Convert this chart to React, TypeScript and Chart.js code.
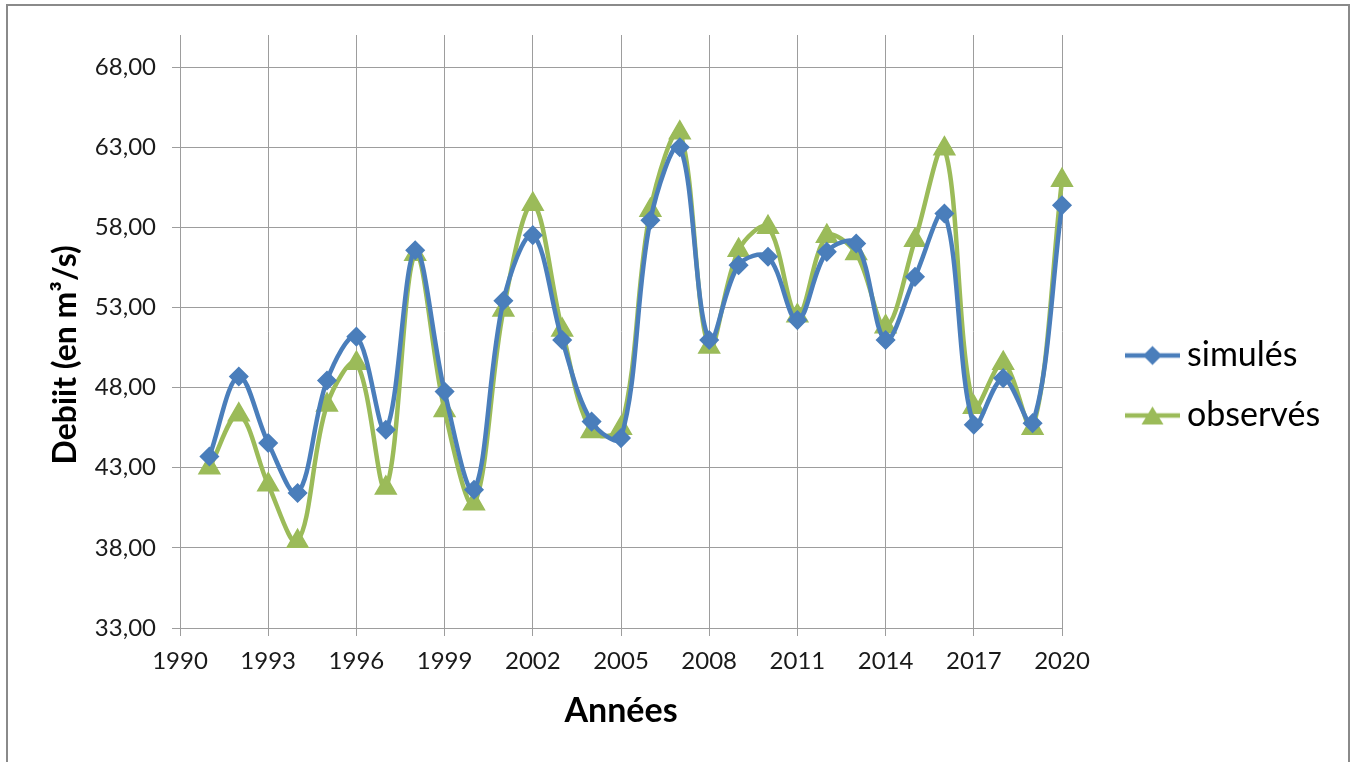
import React, { useEffect, useRef } from 'react';
import { Chart, registerables } from 'chart.js';

Chart.register(...registerables);

const years = [1991, 1992, 1993, 1994, 1995, 1996, 1997, 1998, 1999, 2000, 2001, 2002, 2003, 2004, 2005, 2006, 2007, 2008, 2009, 2010, 2011, 2012, 2013, 2014, 2015, 2016, 2017, 2018, 2019, 2020];
const simules = [43.7, 48.69, 44.54, 41.42, 48.44, 51.18, 45.37, 56.57, 47.75, 41.63, 53.42, 57.51, 50.97, 45.88, 44.85, 58.44, 63.0, 50.97, 55.64, 56.16, 52.21, 56.47, 56.99, 50.97, 54.91, 58.86, 45.68, 48.59, 45.78, 59.38];
const observes = [43.0, 46.3, 41.94, 38.41, 46.92, 49.52, 41.74, 56.32, 46.57, 40.76, 52.84, 59.44, 51.59, 45.26, 45.47, 59.07, 63.9, 50.53, 56.57, 58.0, 52.48, 57.45, 56.37, 51.8, 57.2, 62.91, 46.78, 49.52, 45.47, 60.93];
const seriesLabels = ['simulés', 'observés'];
const xTicks = [1990, 1993, 1996, 1999, 2002, 2005, 2008, 2011, 2014, 2017, 2020];
const yTicks = [33, 38, 43, 48, 53, 58, 63, 68];
const xTitle = 'Années';
const yTitle = 'Debiit (en m³/s)';

const BLUE = '#4A7EBB';
const GREEN = '#9BBB59';
const GRID = '#9d9d9d';
const FONT = 'Lato';
const LEGEND_FONT_SIZE = 34;
const LEGEND_PAD = 26;
const LEGEND_BOX = 82;
const CHART_RIGHT = 1062;
const LINE_START = 1125;
const LINE_LEN = 55;

function makeLegendImg(color: string, kind: 'diamond' | 'triangle') {
  // image is drawn centred at cursor.x + LEGEND_BOX / 2
  const centreX = CHART_RIGHT + LEGEND_PAD + LEGEND_BOX / 2;
  const relStart = LINE_START - centreX;
  const relEnd = relStart + LINE_LEN;
  const half = Math.ceil(Math.max(Math.abs(relStart), Math.abs(relEnd))) + 2;
  const c = document.createElement('canvas');
  c.width = half * 2;
  c.height = 30;
  const g = c.getContext('2d')!;
  const x0 = half + relStart;
  const x1 = half + relEnd;
  g.strokeStyle = color;
  g.lineWidth = 4.5;
  g.beginPath();
  g.moveTo(x0, 15);
  g.lineTo(x1, 15);
  g.stroke();
  g.fillStyle = color;
  g.beginPath();
  const cx = (x0 + x1) / 2;
  if (kind === 'diamond') {
    const r = 9.5;
    g.moveTo(cx - r, 15);
    g.lineTo(cx, 15 - r);
    g.lineTo(cx + r, 15);
    g.lineTo(cx, 15 + r);
  } else {
    g.moveTo(cx, 15 - 9);
    g.lineTo(cx + 11, 15 + 9);
    g.lineTo(cx - 11, 15 + 9);
  }
  g.closePath();
  g.fill();
  return c;
}

export default function App() {
  const ref = useRef<HTMLCanvasElement | null>(null);

  useEffect(() => {
    if (!ref.current) return;
    const legendImgs = [makeLegendImg(BLUE, 'diamond'), makeLegendImg(GREEN, 'triangle')];

    const mc = document.createElement('canvas').getContext('2d')!;
    mc.font = `${LEGEND_FONT_SIZE}px ${FONT}`;
    const textW = Math.max(...seriesLabels.map((t) => mc.measureText(t).width));
    const legendW = LEGEND_PAD + LEGEND_BOX + LEGEND_FONT_SIZE / 2 + textW + 10;
    const padRight = Math.max(0, 1355 - CHART_RIGHT - legendW);

    const chart = new Chart(ref.current, {
      type: 'line',
      data: {
        datasets: [
          {
            label: seriesLabels[0],
            data: years.map((y, i) => ({ x: y, y: simules[i] })),
            borderColor: BLUE,
            backgroundColor: BLUE,
            borderWidth: 4.5,
            tension: 0.35,
            pointStyle: 'rectRot',
            pointRadius: 9,
            pointBorderWidth: 1.5,
            pointBackgroundColor: BLUE,
            pointBorderColor: BLUE,
            clip: false,
          },
          {
            label: seriesLabels[1],
            data: years.map((y, i) => ({ x: y, y: observes[i] })),
            borderColor: GREEN,
            backgroundColor: GREEN,
            borderWidth: 4.5,
            tension: 0.35,
            pointStyle: 'triangle',
            pointRadius: 12,
            pointBorderWidth: 1.5,
            pointBackgroundColor: GREEN,
            pointBorderColor: GREEN,
            clip: false,
          },
        ],
      },
      options: {
        responsive: false,
        animation: false,
        events: [],
        layout: { padding: { left: 0, top: 35, right: padRight, bottom: 26 } },
        plugins: {
          tooltip: { enabled: false },
          legend: {
            position: 'right',
            align: 'center',
            labels: {
              usePointStyle: true,
              pointStyleWidth: LEGEND_BOX,
              padding: LEGEND_PAD,
              color: '#111',
              font: { family: FONT, size: LEGEND_FONT_SIZE },
              generateLabels: (ch: any) =>
                ch.data.datasets.map((ds: any, i: number) => ({
                  text: ds.label,
                  pointStyle: legendImgs[i],
                  fillStyle: ds.borderColor,
                  strokeStyle: ds.borderColor,
                  lineWidth: 0,
                  hidden: false,
                  datasetIndex: i,
                })),
            },
          },
        },
        scales: {
          x: {
            type: 'linear',
            min: 1990,
            max: 2020,
            afterBuildTicks: (s: any) => {
              s.ticks = xTicks.map((v) => ({ value: v }));
            },
            afterFit: (s: any) => {
              s.height = 108;
            },
            ticks: {
              autoSkip: false,
              maxRotation: 0,
              padding: 11,
              color: '#1a1a1a',
              font: { family: FONT, size: 24 },
              callback: (v: any) => String(v),
            },
            grid: { color: GRID, lineWidth: 1, tickLength: 8, drawTicks: true },
            border: { color: GRID, width: 1 },
            title: {
              display: true,
              text: xTitle,
              color: '#000',
              font: { family: FONT, size: 34, weight: 'bold' },
              padding: { top: 0, bottom: 5 },
            },
          },
          y: {
            type: 'linear',
            min: 33,
            max: 70,
            afterBuildTicks: (s: any) => {
              s.ticks = yTicks.map((v) => ({ value: v }));
            },
            afterFit: (s: any) => {
              s.width = 180;
            },
            ticks: {
              padding: 16,
              color: '#1a1a1a',
              font: { family: FONT, size: 24 },
              callback: (v: any) => Number(v).toFixed(2).replace('.', ','),
            },
            grid: { color: GRID, lineWidth: 1, tickLength: 8, drawTicks: true },
            border: { color: GRID, width: 1 },
            title: {
              display: true,
              text: yTitle + '      ',
              color: '#000',
              font: { family: FONT, size: 32, weight: 'bold' },
              padding: { top: 46, bottom: 0 },
            },
          },
        },
      },
    } as any);

    return () => chart.destroy();
  }, []);

  return (
    <div style={{ position: 'fixed', left: 0, top: 0, width: 1355, height: 762, background: '#fff', overflow: 'hidden' }}>
      <canvas ref={ref} width={1355} height={762} style={{ display: 'block' }} />
      <div
        style={{
          position: 'absolute',
          left: 6,
          top: 4,
          width: 1344,
          height: 800,
          border: '2px solid #8a8a8a',
          borderBottom: 'none',
          boxSizing: 'border-box',
          pointerEvents: 'none',
        }}
      />
    </div>
  );
}
